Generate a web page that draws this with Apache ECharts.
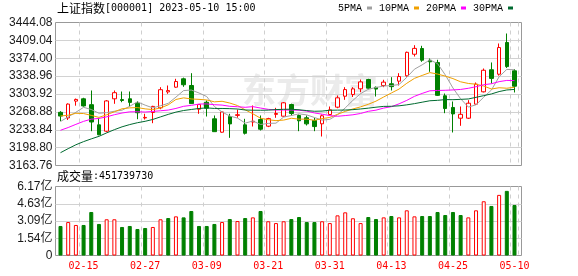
<!DOCTYPE html>
<html><head><meta charset="utf-8">
<script src="https://cdn.jsdelivr.net/npm/echarts@6/dist/echarts.min.js"></script>
<style>html,body{margin:0;padding:0;background:#fff}#c{width:578px;height:276px}</style>
</head><body><div id="c"></div>
<script>
const indexName = '上证指数';
const indexCode = '000001';
const stamp = '2023-05-10 15:00';
const lastVolume = 451739730;
const prevClose = 3270.38;

const dates = ['02-10','02-13','02-14','02-15','02-16','02-17','02-20','02-21','02-22','02-23','02-24','02-27','02-28','03-01','03-02','03-03','03-06','03-07','03-08','03-09','03-10','03-13','03-14','03-15','03-16','03-17','03-20','03-21','03-22','03-23','03-24','03-27','03-28','03-29','03-30','03-31','04-03','04-04','04-06','04-07','04-10','04-11','04-12','04-13','04-14','04-17','04-18','04-19','04-20','04-21','04-24','04-25','04-26','04-27','04-28','05-04','05-05','05-08','05-09','05-10'];
const labelDates = ['02-15','02-27','03-09','03-21','03-31','04-13','04-25','05-10'];

const opens = [3268,3257,3290,3294.5,3283,3243.5,3231,3294.5,3293,3294.5,
 3286,3257,3267.7,3276.8,3308,3317.3,3333.7,3320.6,3274.1,3287.8,
 3255.3,3229,3259.8,3262,3243.5,3249,3253.9,3240.8,3264,3260.4,
 3283.3,3261.8,3257.3,3252,3245.5,3263.7,3278.1,3299.6,3303,3314.1,
 3332.3,3317,3320.6,3324,3329.1,3339.6,3381.9,3393.1,3370,3365.7,
 3300.4,3277.5,3256.5,3256.5,3284,3308.2,3351.4,3342.7,3404.9,3349.4];
const closes = [3260.67,3284.16,3293.28,3280.49,3249.03,3224.02,3290.34,3306.52,3291.15,3287.48,
 3267.16,3258.03,3279.61,3312.35,3310.65,3328.39,3322.03,3285.10,3283.25,3276.09,
 3230.08,3268.70,3245.31,3263.31,3226.89,3250.55,3234.91,3255.65,3265.65,3286.65,
 3265.70,3251.40,3245.38,3240.06,3261.25,3272.86,3296.40,3312.56,3314.00,3327.65,
 3315.36,3313.57,3327.18,3318.36,3338.15,3385.61,3393.33,3370.13,3367.03,3301.26,
 3275.41,3264.87,3264.10,3285.88,3323.28,3350.46,3334.50,3395.00,3357.67,3319.15];
const lows = [3250.6,3253,3281,3279,3231,3223,3229,3284.7,3287.8,3279.4,
 3254.5,3253.9,3246.7,3274.1,3304.3,3316,3318,3284.7,3265.1,3259.8,
 3230,3228,3218,3257.3,3224.5,3240.2,3232.4,3239,3257.3,3259,
 3261.8,3231,3242.2,3231,3220.6,3262,3276,3292.5,3298,3307.4,
 3313,3299,3317.3,3310.8,3320.6,3338,3377.4,3367,3347.4,3300,
 3266.3,3228.5,3241.6,3255,3283,3307,3324.5,3340,3355,3306.9];
const highs = [3270.2,3285.5,3295,3296.5,3310.8,3257,3292,3310.8,3308.8,3308.8,
 3289.8,3265.2,3280.8,3317.3,3320.6,3333.7,3336,3344.7,3284,3291.2,
 3261.8,3270,3265.1,3273.5,3255.3,3281.4,3261.8,3257.3,3276.8,3288,
 3285,3263.7,3261.8,3257.3,3263.7,3279.4,3301,3317.3,3317.3,3332.3,
 3333.7,3318.6,3331.8,3336.9,3344.7,3387,3399.6,3398.4,3373.5,3371,
 3304.9,3289.2,3279.4,3291.8,3326.5,3353.9,3365.7,3402.9,3422.5,3352.5];

const ma5 = [3250.00,3259.10,3268.10,3277.80,3273.53,3266.20,3267.43,3270.08,3272.21,3279.90,
 3288.53,3282.07,3276.69,3280.93,3285.56,3297.81,3310.61,3311.70,3305.88,3298.97,
 3279.31,3268.64,3260.69,3256.70,3246.86,3250.95,3244.19,3246.26,3246.73,3258.68,
 3261.71,3265.01,3262.96,3257.84,3252.76,3254.19,3263.19,3276.63,3291.41,3304.69,
 3313.19,3316.63,3319.55,3320.42,3322.52,3336.57,3352.53,3361.12,3370.85,3363.47,
 3341.43,3315.74,3294.53,3278.30,3282.71,3297.72,3311.64,3337.82,3352.18,3351.36];
const ma10 = [3260.83,3262.31,3266.07,3265.63,3262.03,3258.09,3263.26,3269.10,3275.00,3276.71,
 3277.36,3274.75,3273.38,3276.57,3282.73,3293.17,3296.34,3294.20,3293.41,3292.27,
 3288.56,3289.63,3286.20,3281.29,3272.92,3265.13,3256.42,3253.47,3251.71,3252.77,
 3256.33,3254.60,3254.61,3252.28,3255.72,3257.95,3264.10,3269.79,3274.63,3278.73,
 3283.69,3289.91,3298.09,3305.92,3313.61,3324.88,3334.58,3340.33,3345.88,3343.00,
 3339.00,3334.13,3327.83,3324.58,3323.09,3319.58,3313.69,3316.18,3315.24,3317.03];
const ma20 = [3232.79,3238.19,3244.38,3250.31,3254.59,3256.03,3259.17,3263.28,3266.62,3268.98,
 3269.10,3268.53,3269.73,3271.10,3272.38,3275.63,3279.80,3281.65,3284.21,3284.49,
 3282.96,3282.19,3279.79,3278.93,3277.83,3279.15,3276.38,3273.84,3272.56,3272.52,
 3272.45,3272.12,3270.41,3266.79,3264.32,3261.54,3260.26,3261.63,3263.17,3265.75,
 3270.01,3272.26,3276.35,3279.10,3284.67,3291.42,3299.34,3305.06,3310.14,3310.87,
 3311.23,3311.90,3312.84,3315.13,3318.23,3322.11,3324.02,3328.14,3330.56,3330.14];
const ma30 = [3188.87,3196.81,3204.40,3210.57,3215.95,3220.96,3227.67,3234.00,3239.59,3243.99,
 3247.65,3250.38,3254.05,3259.07,3263.97,3268.41,3271.56,3273.59,3275.55,3276.74,
 3275.58,3275.56,3275.22,3274.50,3272.56,3272.13,3272.01,3272.26,3273.37,3273.92,
 3274.08,3272.99,3271.40,3270.05,3270.46,3272.08,3272.29,3272.49,3273.25,3274.59,
 3276.19,3278.05,3279.63,3279.83,3280.75,3282.65,3285.03,3287.86,3290.66,3291.50,
 3292.93,3292.80,3293.43,3294.18,3297.39,3300.72,3304.04,3308.69,3311.84,3312.92];

// volume in 亿 (1e8 shares)
const volumes = [2.64,2.99,2.73,2.73,3.89,2.82,3.24,3.24,2.55,2.64,
 2.37,2.46,2.55,3.24,3.35,3.50,3.41,3.98,2.64,2.64,
 2.82,2.99,3.26,3.08,3.35,3.41,3.98,3.06,2.90,3.06,
 3.26,3.44,2.99,2.99,3.06,2.90,3.59,3.86,3.33,2.90,
 3.44,3.26,3.41,3.53,3.41,4.04,3.50,3.53,3.53,3.89,
 3.62,3.89,3.62,3.41,4.04,4.85,4.43,5.42,5.78,4.5174];

const priceTicks = [3163.76,3198.80,3233.84,3268.88,3303.92,3338.96,3374.00,3409.04,3444.08];
const volTicks = [0,1.5425,3.085,4.6275,6.17];
const volTickLabels = ['0','1.54亿','3.09亿','4.63亿','6.17亿'];
const maNames = ['5PMA','10PMA','20PMA','30PMA'];

// ---- build ----
const RED = '#ff0000', GREEN = '#008000';
const ohlc = dates.map((d, i) => [opens[i], closes[i], lows[i], highs[i]]);
const volData = volumes.map((v, i) => {
  const pc = i === 0 ? prevClose : closes[i - 1];
  const up = closes[i] >= pc;
  return { value: v, itemStyle: up ? { color: '#fff', borderColor: RED, borderWidth: 1 } : { color: GREEN, borderColor: GREEN, borderWidth: 1 } };
});
const showIdx = (idx) => labelDates.indexOf(dates[idx]) >= 0;
const pInt = Math.round((priceTicks[1] - priceTicks[0]) * 100) / 100;

const FL = 55.5, FW = 466;             // frame
const DL = 56.65, DW = 461.7;          // data band area
const MT = 22.5, MH = 143;
const VT = 186.5, VH = 69;

const monoFont = 'DejaVu Sans Mono';
const axisLabelFont = { fontFamily: 'Liberation Sans, Noto Sans CJK SC', fontSize: 12, color: '#1a1a1a' };
const richTitle = {
  a: { fontFamily: 'Noto Sans CJK SC', fontSize: 12, fontWeight: 'normal', color: '#000' },
  b: { fontFamily: monoFont, fontSize: 10, fontWeight: 'normal', color: '#000' }
};

const chart = echarts.init(document.getElementById('c'), null, { renderer: 'canvas' });
chart.setOption({
  animation: false,
  backgroundColor: '#fff',
  title: [
    { left: 57, top: 2, padding: 0,
      text: '{a|' + indexName + '}{b|[' + indexCode + '] ' + stamp + '}',
      textStyle: { fontWeight: 'normal', rich: richTitle } },
    { left: 57, top: 170, padding: 0,
      text: '{a|成交量}{b|:' + lastVolume + '}',
      textStyle: { fontWeight: 'normal', rich: richTitle } }
  ],
  legend: {
    data: maNames, left: 338, top: 3, padding: 0, itemGap: 7, itemWidth: 5, itemHeight: 3,
    align: 'right', icon: 'rect', selectedMode: false,
    textStyle: { fontFamily: 'Liberation Mono', fontSize: 10, color: '#000' }
  },
  graphic: [{
    type: 'text', left: 242, top: 73, z: -10, silent: true,
    style: { text: '东方财富', fontSize: 34, fontWeight: 'bold', fontFamily: 'Noto Sans CJK SC', fill: '#ebebeb' }
  }],
  grid: [
    { left: FL, top: MT, width: FW, height: MH, show: true, borderColor: '#999', borderWidth: 1, backgroundColor: 'transparent' },
    { left: DL, top: MT, width: DW, height: MH },
    { left: FL, top: VT, width: FW, height: VH, show: true, borderColor: '#999', borderWidth: 1, backgroundColor: 'transparent' },
    { left: DL, top: VT, width: DW, height: VH }
  ],
  xAxis: [
    { gridIndex: 0, type: 'value', min: 0, max: 1, show: false },
    { gridIndex: 1, type: 'category', data: dates, boundaryGap: true,
      axisLine: { show: false }, axisTick: { show: false }, axisLabel: { show: false },
      splitLine: { show: true, interval: (i) => showIdx(i), lineStyle: { color: '#cfcfcf', type: [4, 4] } } },
    { gridIndex: 2, type: 'value', min: 0, max: 1, show: false },
    { gridIndex: 3, type: 'category', data: dates, boundaryGap: true,
      axisLine: { show: false }, axisTick: { show: false },
      axisLabel: { show: true, interval: (i) => showIdx(i), margin: 6, color: RED, fontFamily: monoFont, fontSize: 10 },
      splitLine: { show: true, interval: (i) => showIdx(i), lineStyle: { color: '#cfcfcf', type: [4, 4] } } }
  ],
  yAxis: [
    { gridIndex: 0, type: 'value', min: priceTicks[0], max: priceTicks[priceTicks.length - 1], interval: pInt,
      axisLine: { show: false }, axisTick: { show: false },
      axisLabel: Object.assign({ margin: 3, formatter: (v) => v.toFixed(2) }, axisLabelFont),
      splitLine: { show: true, showMinLine: false, showMaxLine: false, lineStyle: { color: '#d2d2d2' } } },
    { gridIndex: 1, type: 'value', min: priceTicks[0], max: priceTicks[priceTicks.length - 1], show: false, splitLine: { show: false } },
    { gridIndex: 2, type: 'value', min: volTicks[0], max: volTicks[volTicks.length - 1], interval: volTicks[1] - volTicks[0],
      axisLine: { show: false }, axisTick: { show: false },
      axisLabel: Object.assign({ margin: 3, formatter: (v, i) => volTickLabels[i] }, axisLabelFont),
      splitLine: { show: true, showMinLine: false, showMaxLine: false, lineStyle: { color: '#d2d2d2' } } },
    { gridIndex: 3, type: 'value', min: volTicks[0], max: volTicks[volTicks.length - 1], show: false, splitLine: { show: false } }
  ],
  series: [
    { type: 'candlestick', xAxisIndex: 1, yAxisIndex: 1, data: ohlc, barWidth: 4,
      itemStyle: { color: '#fff', color0: GREEN, borderColor: RED, borderColor0: GREEN, borderWidth: 1 } },
    { name: maNames[0], type: 'line', xAxisIndex: 1, yAxisIndex: 1, data: ma5, symbol: 'none', color: '#a0a0a0', lineStyle: { width: 1, color: '#a0a0a0' } },
    { name: maNames[1], type: 'line', xAxisIndex: 1, yAxisIndex: 1, data: ma10, symbol: 'none', color: '#f0a000', lineStyle: { width: 1, color: '#f0a000' } },
    { name: maNames[2], type: 'line', xAxisIndex: 1, yAxisIndex: 1, data: ma20, symbol: 'none', color: '#ff00ff', lineStyle: { width: 1, color: '#ff00ff' } },
    { name: maNames[3], type: 'line', xAxisIndex: 1, yAxisIndex: 1, data: ma30, symbol: 'none', color: '#006a30', lineStyle: { width: 1, color: '#006a30' } },
    { type: 'bar', xAxisIndex: 3, yAxisIndex: 3, data: volData, barWidth: 4 }
  ]
});
</script></body></html>
